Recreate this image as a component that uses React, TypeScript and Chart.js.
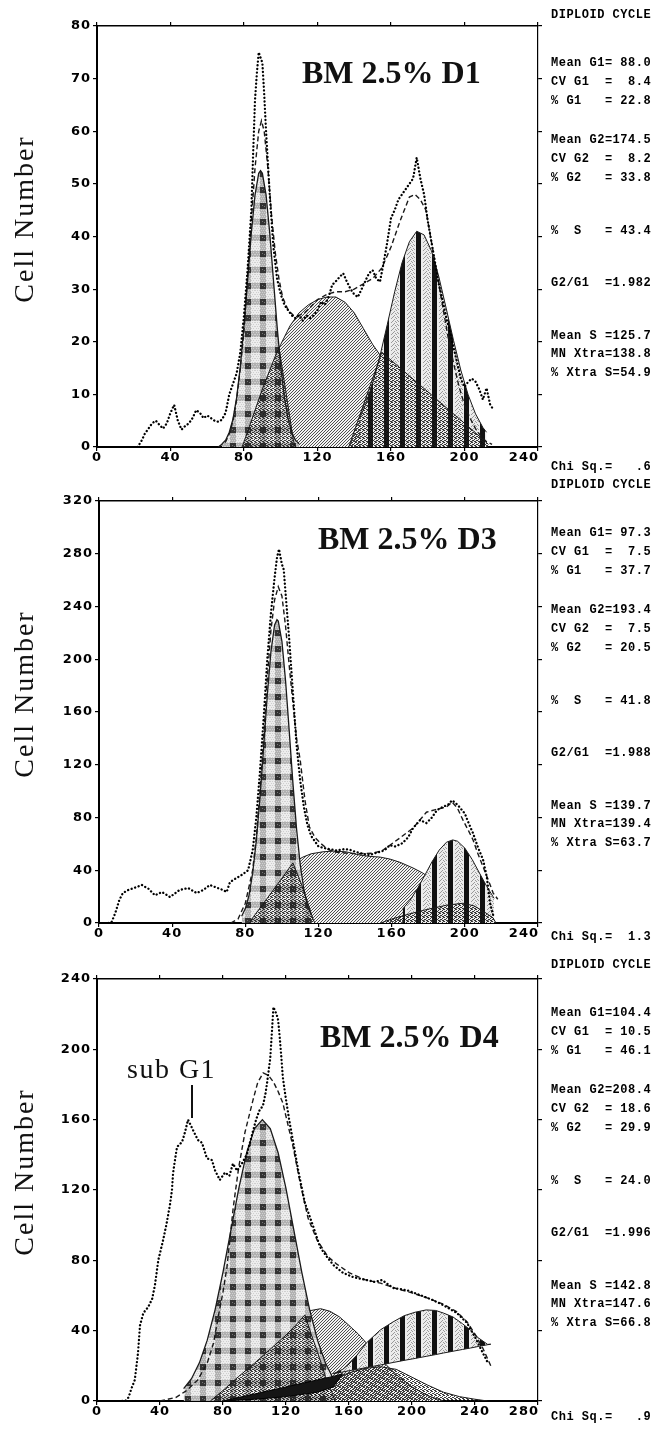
import React, { useEffect, useRef } from "react";
import { Chart, registerables } from "chart.js";
Chart.register(...registerables);

type P = [number, number];

// ---------------- Panel 1 : BM 2.5% D1 ----------------
const p1XTicks = [0, 40, 80, 120, 160, 200, 240];
const p1YTicks = [0, 10, 20, 30, 40, 50, 60, 70, 80];
const p1Raw: P[] = [[22,0],[24,1],[26,2.5],[28,3.5],[30,4.5],[32,5],[34,4.2],[36,3.5],[38,4.5],[40,6.5],[42,8],[44,5],[46,3.3],[48,4],[50,4.5],[52,5.5],[54,7],[56,6.5],[58,5.5],[60,6],[62,5.5],[64,5],[66,4.8],[68,5.2],[70,6.5],[72,10],[74,12],[76,14],[78,18],[80,25],[82,34],[84,45],[85,56],[86,66],[87,71],[88,75],[89,74],[90,73],[91,67],[92,60],[94,48],[96,38],[98,32],[100,29],[102,27],[104,26],[106,25],[108,24.5],[110,25],[112,24],[114,25],[116,24.5],[118,25],[120,26],[122,27.6],[124,27],[126,28.5],[128,30.8],[130,31.5],[132,32.3],[134,33],[136,31.4],[138,30],[140,29],[142,28.5],[144,30],[146,31.5],[148,33],[150,33.6],[152,32],[154,31.4],[156,35],[158,39],[160,43.5],[162,45],[164,47],[166,48],[168,49],[170,50],[172,51],[174,55],[176,51],[178,48],[180,43],[182,39],[184,35],[186,31],[188,28],[190,24.7],[192,22],[194,19],[196,16],[198,13],[200,11.4],[202,12.4],[204,13],[206,12.4],[208,11],[210,9],[212,11.2],[214,8],[216,7]];
const p1Fit: P[] = [[66,0],[68,0.5],[70,1],[72,2.5],[74,5],[76,9],[78,15],[80,22],[82,33],[84,43],[86,53],[88,60],[89.5,62],[91,60],[93,53],[95,44],[97,37],[99,32],[101,28.5],[104,26],[107,25],[110,25],[113,25.5],[116,26.5],[120,28],[125,29],[130,29.5],[135,29.5],[140,30],[145,31],[150,32],[155,34],[160,38],[165,43],[170,47.5],[173,48],[176,47],[179,45],[182,39],[185,33],[188,27],[191,21],[194,16],[197,11.5],[200,8],[203,5.5],[206,3.5],[209,2],[212,1],[215,0.5]];
const p1G1: P[] = [[68,0.6],[70,1.3],[72,2.8],[74,5.3],[76,9.4],[78,15.3],[80,23],[82,31.8],[84,40.7],[86,47.9],[88,52],[89,52.5],[90,52],[92,47.9],[94,40.7],[96,31.8],[98,23],[100,15.3],[102,9.4],[104,5.3],[106,2.8],[108,1.3],[110,0.6]];
const p1S: P[] = [[90,12],[95,16],[100,19.5],[105,23],[110,25.5],[115,27],[120,28],[125,28.5],[130,28.5],[135,27.5],[140,25.5],[145,22.5],[150,19.5],[155,17],[160,12],[165,7],[170,3.5],[175,1],[180,0]];
const p1XtraA: P[] = [[79,0],[81,2],[85,6],[90,11],[95,15.5],[99,19],[103,10],[107,1],[108,0]];
const p1XtraB: P[] = [[137,0],[146,9],[155,18],[165,15],[175,12],[185,9],[195,6],[205,3],[213,0.5]];
const p1G2: P[] = [[143,5.5],[146,7.9],[150,12.1],[154,17.3],[158,23.3],[162,29.5],[166,35],[170,39],[174,41],[178,40.3],[182,37.3],[186,32.4],[190,26.4],[194,20.3],[198,14.6],[202,9.9],[206,6.3],[210,3.7],[212,2.8]];
const p1Stats = ["DIPLOID CYCLE","Mean G1= 88.0","CV G1  =  8.4","% G1   = 22.8","Mean G2=174.5","CV G2  =  8.2","% G2   = 33.8","%  S   = 43.4","G2/G1  =1.982","Mean S =125.7","MN Xtra=138.8","% Xtra S=54.9","Chi Sq.=   .6"];

// ---------------- Panel 2 : BM 2.5% D3 ----------------
const p2XTicks = [0, 40, 80, 120, 160, 200, 240];
const p2YTicks = [0, 40, 80, 120, 160, 200, 240, 280, 320];
const p2Raw: P[] = [[5,0],[7,1],[9,8],[11,17],[13,22.7],[16,25],[20,27],[23.5,28.8],[27,26],[30.6,21],[34.4,23.5],[38.8,19.7],[44,25],[48.7,26.5],[53.4,22.7],[57,25],[60.6,28.8],[64,27],[67.8,25],[69.8,23.5],[71.6,31],[75,34],[78,36.4],[81.5,40],[84,55],[86,80],[88,115],[90,155],[92,200],[94,235],[96,262],[97.3,277],[98.4,283.5],[100,272],[101,268],[102,250],[104,215],[106,175],[108,135],[110,108],[112,88],[114,74],[116,66],[118,62],[120,58],[122.5,57],[126,56],[130,55],[134,56],[137,55.6],[140,54],[142.7,53],[146,52],[148,51.5],[151,53],[153.6,54],[156,55],[159,59],[162,58],[166,60.6],[169,65],[171.7,72],[175.5,78],[179,75.8],[182,80],[184.8,85.7],[188,88],[191,90],[193,93],[195,91],[197,88],[200,83],[202,76],[204.5,68],[207,58],[210,47.8],[212,35],[213.8,15],[215.5,6]];
const p2Fit: P[] = [[72,0],[76,3],[80,15],[84,40],[86,65],[88,100],[90,140],[92,185],[94,222],[96,245],[98,255],[100,248],[102,225],[104,195],[106,167],[108,140],[110,123.6],[112.6,93],[115,73],[118,65],[121,60.6],[125,56],[128,54],[135,53],[142,52.5],[150,53],[155,55],[159,59],[165,65],[171.7,72],[176,79],[179,84],[184,86],[190,88],[193,91.7],[196,87],[199,78],[202,70],[204.5,63],[207,53],[210,42.5],[213,32],[215.5,22.7],[218,18]];
const p2G1: P[] = [[78,5.1],[80,10.9],[82,21],[84,37.8],[86,62.5],[88,95],[90,133.5],[92,172.7],[94,205.8],[96,226],[97.3,230],[98,229],[100,213.5],[102,183.5],[104,145.5],[106,106.3],[108,71.5],[110,44.4],[112,25.4],[114,13.3],[116,6.5]];
const p2S: P[] = [[100,40],[106,45.5],[111.5,50],[116,52.5],[122.5,54],[128,54.5],[135,54],[142.7,51.5],[148,50.5],[153.6,50],[159,48.5],[164.6,46],[171.7,41.7],[177,37.9],[183,32],[190,24],[197,16],[205,8],[212,2]];
const p2XtraA: P[] = [[82,0],[86,7.6],[90,15],[95,24.5],[100,34],[106,45.5],[110,32],[114,16],[117,3],[118,0]];
const p2XtraB: P[] = [[154,0],[160,3],[170,7],[180,10.5],[190,13.5],[199,15],[205,13],[210,9],[215.5,3.8],[217,0]];
const p2G2: P[] = [[166,10.6],[170,17.1],[174,25.8],[178,35.9],[182,46.3],[186,55.3],[190,61.3],[193.4,63],[196,62],[200,56.8],[204,48.2],[208,37.9],[212,27.7],[216,18.7]];
const p2Stats = ["DIPLOID CYCLE","Mean G1= 97.3","CV G1  =  7.5","% G1   = 37.7","Mean G2=193.4","CV G2  =  7.5","% G2   = 20.5","%  S   = 41.8","G2/G1  =1.988","Mean S =139.7","MN Xtra=139.4","% Xtra S=63.7","Chi Sq.=  1.3"];

// ---------------- Panel 3 : BM 2.5% D4 ----------------
const p3XTicks = [0, 40, 80, 120, 160, 200, 240, 280];
const p3YTicks = [0, 40, 80, 120, 160, 200, 240];
const p3Raw: P[] = [[16,0],[18,0],[20,2],[22,7.4],[24,12],[26,27],[27.3,43],[29.4,50],[32.5,53.5],[35,58],[36.8,66],[38.9,80],[42,91.6],[44.2,101],[46.3,111.5],[47.6,120],[48.3,129.7],[49.5,137],[50.8,144.5],[54,147.3],[55.9,153],[57.8,160],[61,154],[64,148.5],[66.7,146.8],[69.8,138],[73,137],[75,131],[78,125.7],[81.3,130],[84,128],[86.3,135],[88.9,131],[92,135],[95,140],[98,150],[101,160],[103,165],[105.4,168],[107,175],[108,181],[110,195],[111,209],[112,224],[114,220],[115,216.7],[116,207],[117,196],[118,184],[119.4,175],[122,160],[125,145],[128,130],[132,112.6],[137,100],[141.6,87.6],[146,82],[150,77.4],[156,73],[162.5,70.5],[170,69],[176.5,67.7],[181,68.8],[188,64.3],[196.8,63],[205,60.3],[213,57.5],[219.7,54.6],[228.6,50],[234.9,44.4],[240,36.4],[245,27.3],[248,22]];
const p3Fit: P[] = [[40,0],[50,2],[57,6],[64,12],[70,21.6],[74,33],[77,48],[80,62],[82.5,76],[86.5,110],[88,120],[90,133],[94,153],[99,171],[102,181],[105.5,186.6],[109,185],[112,181.5],[115,176],[118,169.5],[121,158],[124.5,144.5],[129,124],[134,104],[139.7,91.6],[146.7,82],[152,78],[160,73],[170,69],[180,67],[190,64],[200,61.5],[210,58.5],[220,55],[228,51],[235,45],[240,38],[245,30],[248,24],[250,20]];
const p3G1: P[] = [[55,7],[60,12.7],[65,21.7],[70,34.6],[75,52],[80,73.3],[85,97],[90,120.8],[95,141.2],[100,155],[105,160],[110,155],[115,141.2],[120,120.8],[125,97],[130,73.3],[135,52],[140,34.6],[145,21.7],[150,12.7]];
const p3S: P[] = [[112,28],[118,38],[124,45],[130,49.5],[136,51.5],[142,52.5],[148,51],[154,47.8],[160,43],[166,38],[171,33],[176,28],[182,22],[190,15],[200,8],[210,3],[220,0]];
const p3XtraA: P[] = [[72,0],[80,6],[90,14],[100,21.5],[110,29.5],[120,37.5],[126,43],[132,49],[136,38],[140,28],[145,14],[150,3],[151,0]];
const p3XtraB: P[] = [[128,0],[135,4],[140,8],[150,12.5],[160,16],[170,18.5],[180,19.5],[190,18],[200,13.5],[210,9],[220,5],[230,2.5],[240,1],[248,0]];
const p3WedgeTop: P[] = [[80,0],[100,4],[120,8],[140,12],[150,14],[156,15.5]];
const p3WedgeBase: P[] = [[80,0],[100,1],[120,2.5],[140,5],[150,8],[156,15.5]];
const p3G2Top: P[] = [[150,15.5],[156,18],[160,21],[165,26],[171,33],[180,40.5],[188,45],[195,48.5],[202,50.5],[209,51.8],[215,51.5],[220,50],[226,47.8],[232,44],[237,40.4],[242,36],[248,32.2],[250,32.3]];
const p3G2Base: P[] = [[150,15.5],[156,16.5],[160,17.2],[165,18],[171,19],[180,20.5],[188,21.9],[195,23.1],[202,24.2],[209,25.4],[215,26.4],[220,27.3],[226,28.3],[232,29.3],[237,30.1],[242,31],[248,32],[250,32.3]];
const p3Stats = ["DIPLOID CYCLE","Mean G1=104.4","CV G1  = 10.5","% G1   = 46.1","Mean G2=208.4","CV G2  = 18.6","% G2   = 29.9","%  S   = 24.0","G2/G1  =1.996","Mean S =142.8","MN Xtra=147.6","% Xtra S=66.8","Chi Sq.=   .9"];

const titles = ["BM 2.5% D1", "BM 2.5% D3", "BM 2.5% D4"];

// ---------------- layout ----------------
const CANVAS_W = 659;
const CANVAS_H = 470;
const Y_W = 40, Y2_W = 4, X_H = 24, X2_H = 4;
const STAT_OFFSETS = [0, 48, 67, 86, 125, 144, 163, 216, 268, 321, 339, 358, 452];

type PanelDef = {
  canvasTop: number;
  plot: { l: number; t: number; r: number; b: number };
  xMax: number; yMax: number; xTicks: number[]; yTicks: number[];
  raw: P[]; fit: P[]; g1: P[]; g2: P[]; s: P[]; xtra: P[][];
  wedge?: [P[], P[]]; g2Base?: P[];
  stats: string[]; statsTop: number;
  title: string; titlePos: [number, number];
  yTitleCenter: number;
};

const PANELS: PanelDef[] = [
  { canvasTop: 6, plot: { l: 97, t: 26, r: 538, b: 447 }, xMax: 240, yMax: 80, xTicks: p1XTicks, yTicks: p1YTicks,
    raw: p1Raw, fit: p1Fit, g1: p1G1, g2: p1G2, s: p1S, xtra: [p1XtraA, p1XtraB],
    stats: p1Stats, statsTop: 15, title: titles[0], titlePos: [302, 56], yTitleCenter: 219 },
  { canvasTop: 481, plot: { l: 99, t: 501, r: 538, b: 923 }, xMax: 240, yMax: 320, xTicks: p2XTicks, yTicks: p2YTicks,
    raw: p2Raw, fit: p2Fit, g1: p2G1, g2: p2G2, s: p2S, xtra: [p2XtraA, p2XtraB],
    stats: p2Stats, statsTop: 485, title: titles[1], titlePos: [318, 522], yTitleCenter: 694 },
  { canvasTop: 959, plot: { l: 97, t: 979, r: 538, b: 1401 }, xMax: 280, yMax: 240, xTicks: p3XTicks, yTicks: p3YTicks,
    raw: p3Raw, fit: p3Fit, g1: p3G1, g2: p3G2Top, s: p3S, xtra: [p3XtraA, p3XtraB], wedge: [p3WedgeTop, p3WedgeBase], g2Base: p3G2Base,
    stats: p3Stats, statsTop: 965, title: titles[2], titlePos: [320, 1020], yTitleCenter: 1172 },
];

function makePatterns() {
  const mk = (w: number, h: number, draw: (g: CanvasRenderingContext2D) => void) => {
    const c = document.createElement("canvas");
    c.width = w; c.height = h;
    const g = c.getContext("2d")!;
    draw(g);
    return g.createPattern(c, "repeat")!;
  };
  const check = mk(15, 16, (g) => {
    g.fillStyle = "#ededed"; g.fillRect(0, 0, 15, 16);
    g.fillStyle = "#b0b0b0"; g.fillRect(5, 0, 6, 16); g.fillRect(0, 5, 15, 6);
    g.fillStyle = "#cfcfcf";
    for (let y = 0; y < 16; y += 2) for (let x = (y / 2) % 2; x < 15; x += 2) g.fillRect(x, y, 1, 1);
    g.fillStyle = "#333333"; g.fillRect(5, 5, 6, 6);
    g.fillStyle = "#777777"; g.fillRect(7, 7, 1, 1); g.fillRect(9, 8, 1, 1);
  });
  const hatch = mk(3, 3, (g) => {
    g.fillStyle = "#f4f4f4"; g.fillRect(0, 0, 3, 3);
    g.fillStyle = "#505050";
    for (let i = 0; i < 3; i++) g.fillRect(i, 2 - i, 1, 1);
  });
  const stipple = mk(4, 4, (g) => {
    g.fillStyle = "rgba(30,30,30,0.85)";
    [[0, 0], [2, 1], [1, 2], [3, 3], [2, 3], [0, 2], [3, 0]].forEach(([x, y]) => g.fillRect(x, y, 1, 1));
  });
  const stripe = mk(16, 4, (g) => {
    g.fillStyle = "#ececec"; g.fillRect(0, 0, 16, 4);
    g.fillStyle = "#9a9a9a";
    [[7, 0], [10, 1], [13, 2], [8, 3], [12, 0], [9, 2], [14, 3], [11, 3]].forEach(([x, y]) => g.fillRect(x, y, 1, 1));
    g.fillStyle = "#111111"; g.fillRect(0, 0, 5, 4);
  });
  return { check, hatch, stipple, stripe };
}

const pts = (a: P[]) => a.map(([x, y]) => ({ x, y }));

function labelPlugin(def: PanelDef) {
  return {
    id: "axisLabels",
    afterDraw(chart: any) {
      const { ctx, chartArea } = chart;
      const xs = chart.scales.x, ys = chart.scales.y;
      ctx.save();
      ctx.fillStyle = "#000";
      ctx.font = 'bold 13px "DejaVu Sans", sans-serif';
      if ("letterSpacing" in ctx) (ctx as any).letterSpacing = "1px";
      ctx.textBaseline = "middle";
      ctx.textAlign = "left";
      def.xTicks.forEach((v) => {
        const s = String(v);
        const w = ctx.measureText(s).width;
        let left = xs.getPixelForValue(v) - w / 2;
        if (left + w > chartArea.right + 1) left = chartArea.right + 1 - w;
        ctx.fillText(s, left, chartArea.bottom + 11);
      });
      ctx.textAlign = "right";
      def.yTicks.forEach((v) => ctx.fillText(String(v), chartArea.left - 6, ys.getPixelForValue(v)));
      ctx.restore();
    },
  };
}

function Panel({ def }: { def: PanelDef }) {
  const ref = useRef<HTMLCanvasElement>(null);
  useEffect(() => {
    const pat = makePatterns();
    const line = "#1a1a1a";
    const ds: any[] = [];
    ds.push({ label: "data", data: pts(def.raw), borderColor: "#000", borderWidth: 2.3, borderDash: [0.1, 3.6], borderCapStyle: "round", fill: false, order: 0 });
    ds.push({ label: "fit", data: pts(def.fit), borderColor: line, borderWidth: 1.4, borderDash: [5, 3], fill: false, order: 1 });
    def.xtra.forEach((x, i) => ds.push({ label: "xtra" + i, data: pts(x), borderColor: line, borderWidth: 1, fill: "origin", backgroundColor: pat.stipple, order: 2 }));
    if (def.wedge) {
      const wIdx = ds.length;
      ds.push({ label: "wedgeBase", data: pts(def.wedge[1]), borderColor: "#000", borderWidth: 1, fill: false, order: 1.5 });
      ds.push({ label: "wedge", data: pts(def.wedge[0]), borderColor: "#000", borderWidth: 1, fill: wIdx, backgroundColor: "#151515", order: 1.5 });
    }
    if (def.g2Base) {
      const baseIdx = ds.length;
      ds.push({ label: "g2base", data: pts(def.g2Base), borderColor: line, borderWidth: 1, fill: false, order: 3 });
      ds.push({ label: "G2", data: pts(def.g2), borderColor: line, borderWidth: 1, fill: baseIdx, backgroundColor: pat.stripe, order: 3 });
    } else {
      ds.push({ label: "G2", data: pts(def.g2), borderColor: line, borderWidth: 1, fill: "origin", backgroundColor: pat.stripe, order: 3 });
    }
    ds.push({ label: "G1", data: pts(def.g1), borderColor: line, borderWidth: 1.3, fill: "origin", backgroundColor: pat.check, order: 4 });
    ds.push({ label: "S", data: pts(def.s), borderColor: line, borderWidth: 1, fill: "origin", backgroundColor: pat.hatch, order: 5 });

    const T = def.canvasTop;
    const padding = {
      left: def.plot.l - Y_W,
      right: CANVAS_W - def.plot.r - Y2_W,
      top: def.plot.t - T - X2_H,
      bottom: T + CANVAS_H - def.plot.b - X_H,
    };
    const grid = { drawOnChartArea: false, drawTicks: true, tickLength: 4, color: "#000", lineWidth: 1.2 };
    const xt = (s: any) => { s.ticks = def.xTicks.map((v) => ({ value: v })); };
    const yt = (s: any) => { s.ticks = def.yTicks.map((v) => ({ value: v })); };
    const chart = new Chart(ref.current!, {
      type: "line",
      data: { datasets: ds },
      options: {
        animation: false,
        responsive: false,
        devicePixelRatio: 1,
        layout: { padding },
        elements: { line: { tension: 0 }, point: { radius: 0, hoverRadius: 0 } },
        plugins: { legend: { display: false }, tooltip: { enabled: false } },
        events: [],
        scales: {
          x: { type: "linear", position: "bottom", min: 0, max: def.xMax, afterBuildTicks: xt, ticks: { display: false }, grid, border: { color: "#000", width: 2 }, afterFit: (s: any) => { s.height = X_H; } },
          x2: { type: "linear", position: "top", min: 0, max: def.xMax, afterBuildTicks: xt, ticks: { display: false }, grid, border: { color: "#000", width: 1.5 }, afterFit: (s: any) => { s.height = X2_H; } },
          y: { type: "linear", position: "left", min: 0, max: def.yMax, afterBuildTicks: yt, ticks: { display: false }, grid, border: { color: "#000", width: 2 }, afterFit: (s: any) => { s.width = Y_W; } },
          y2: { type: "linear", position: "right", min: 0, max: def.yMax, afterBuildTicks: yt, ticks: { display: false }, grid, border: { color: "#000", width: 1.2 }, afterFit: (s: any) => { s.width = Y2_W; } },
        },
      } as any,
      plugins: [labelPlugin(def)],
    });
    return () => chart.destroy();
  }, [def]);
  return (
    <canvas
      ref={ref}
      width={CANVAS_W}
      height={CANVAS_H}
      style={{ position: "absolute", left: 0, top: def.canvasTop, width: CANVAS_W, height: CANVAS_H }}
    />
  );
}

export default function App() {
  return (
    <div style={{ position: "absolute", left: 0, top: 0, width: 659, height: 1431, background: "#fff", overflow: "hidden" }}>
      {PANELS.map((def, i) => (
        <React.Fragment key={i}>
          <Panel def={def} />
          <div
            style={{
              position: "absolute", left: 24 - 110, top: def.yTitleCenter - 18, width: 220, height: 36,
              lineHeight: "36px", textAlign: "center", transform: "rotate(-90deg)",
              fontFamily: '"Liberation Serif", serif', fontSize: 28, letterSpacing: "2px", color: "#111", whiteSpace: "nowrap",
            }}
          >
            Cell Number
          </div>
          <div
            style={{
              position: "absolute", left: def.titlePos[0], top: def.titlePos[1], lineHeight: 1,
              fontFamily: '"Liberation Serif", serif', fontWeight: "bold", fontSize: 32, color: "#111", whiteSpace: "nowrap",
            }}
          >
            {def.title}
          </div>
          {def.stats.map((s, j) => (
            <div
              key={j}
              style={{
                position: "absolute", left: 551, top: def.statsTop + STAT_OFFSETS[j] - 7, lineHeight: "14px", height: 14,
                fontFamily: '"Liberation Mono", monospace', fontWeight: "bold", fontSize: 12, letterSpacing: "0.5px",
                color: "#000", whiteSpace: "pre",
              }}
            >
              {s}
            </div>
          ))}
        </React.Fragment>
      ))}
      <div
        style={{
          position: "absolute", left: 127, top: 1055, lineHeight: 1, fontFamily: '"Liberation Serif", serif',
          fontSize: 28, letterSpacing: "1.5px", color: "#111", whiteSpace: "nowrap",
        }}
      >
        sub G1
      </div>
      <div style={{ position: "absolute", left: 191, top: 1085, width: 1.5, height: 33, background: "#111" }} />
    </div>
  );
}
